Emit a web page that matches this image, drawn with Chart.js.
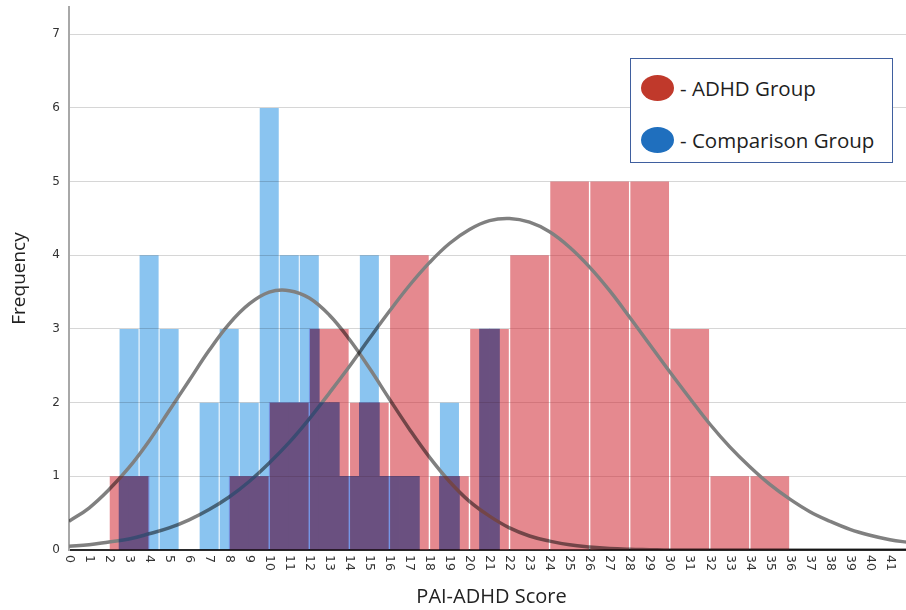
<!DOCTYPE html>
<html>
<head>
<meta charset="utf-8">
<script src="https://cdn.jsdelivr.net/npm/chart.js@4.4.1/dist/chart.umd.min.js"></script>
<style>
  html, body { margin: 0; padding: 0; background: #fff; overflow: hidden; }
  #wrap { position: relative; width: 906px; height: 610px; overflow: hidden; isolation: isolate; background: #fff; }
  #wrap canvas { position: absolute; left: 0; top: 0; }
  #blueLayer { mix-blend-mode: multiply; }
  #legend {
    position: absolute; left: 630px; top: 58px; width: 261px; height: 103px;
    border: 1px solid #3f5f9f; background: #fff; z-index: 2;
    font-family: 'Open Sans', sans-serif; font-size: 20.5px; color: #1e1e1e;
  }
  .item { position: absolute; left: 10px; display: flex; align-items: center; height: 26px; }
  .dot { display: inline-block; width: 33px; height: 26px; border-radius: 50%; margin-right: 6px; }
</style>
</head>
<body>
<div id="wrap">
  <canvas id="redLayer" width="920" height="610"></canvas>
  <canvas id="blueLayer" width="920" height="610"></canvas>
  <div id="legend">
    <div class="item" style="top:16px"><span class="dot" style="background:#c0392b"></span>- ADHD Group</div>
    <div class="item" style="top:68px"><span class="dot" style="background:#1f6fbe"></span>- Comparison Group</div>
  </div>
</div>
<script>
// ADHD group: bins two points wide, given by their midpoints
const adhdMids = [1, 3, 5, 7, 9, 11, 13, 15, 17, 19, 21, 23, 25, 27, 29, 31, 33, 35];
const adhdCounts = [0, 1, 0, 0, 1, 2, 3, 2, 4, 1, 3, 4, 5, 5, 5, 3, 1, 1];

// Comparison group: one bar per score
const compScores = [3, 4, 5, 6, 7, 8, 9, 10, 11, 12, 13, 14, 15, 16, 17, 18, 19, 20, 21];
const compCounts = [3, 4, 3, 0, 2, 3, 2, 6, 4, 4, 2, 1, 4, 1, 1, 0, 2, 0, 3];

// normal curves at each score
const curveScores = [0, 1, 2, 3, 4, 5, 6, 7, 8, 9, 10, 11, 12, 13, 14, 15, 16, 17, 18, 19, 20,
  21, 22, 23, 24, 25, 26, 27, 28, 29, 30, 31, 32, 33, 34, 35, 36, 37, 38, 39, 40, 41, 42];
const adhdCurve = [0.05, 0.07, 0.11, 0.15, 0.22, 0.30, 0.41, 0.55, 0.72, 0.93,
  1.18, 1.46, 1.78, 2.13, 2.49, 2.87, 3.24, 3.59, 3.90, 4.16,
  4.35, 4.47, 4.50, 4.45, 4.32, 4.11, 3.84, 3.52, 3.16, 2.79,
  2.42, 2.06, 1.71, 1.40, 1.13, 0.89, 0.69, 0.52, 0.39, 0.28, 0.20, 0.14, 0.10];
const compCurve = [0.39, 0.57, 0.82, 1.12, 1.48, 1.89, 2.30, 2.71, 3.07, 3.34,
  3.50, 3.52, 3.42, 3.19, 2.86, 2.47, 2.05, 1.64, 1.26, 0.93,
  0.66, 0.46, 0.30, 0.19, 0.12, 0.07, 0.04, 0.02, 0.01, 0.005,
  0, 0, 0, 0, 0, 0, 0, 0, 0, 0, 0, 0, 0];

const RED = 'rgba(208, 40, 51, 0.55)';
const BLUE = 'rgb(138, 196, 240)';
const OVERLAP = 'rgb(118, 149, 228)'; // multiplied over the red it gives the purple
const CURVE = '#808080';

function redAt(x) {
  const i = adhdMids.findIndex(m => Math.abs(x - m) < 1);
  return i < 0 ? 0 : adhdCounts[i];
}
function compAt(x) {
  const i = compScores.findIndex(s => Math.abs(x - s) < 0.5);
  return i < 0 ? 0 : compCounts[i];
}

// where both groups have bars, half a point at a time
const overlap = [];
for (let x = 0.25; x < 42; x += 0.5) {
  const v = Math.min(redAt(x), compAt(x));
  if (v > 0) overlap.push({ x: x, y: v });
}

const pts = (xs, ys) => xs.map((x, i) => ({ x: x, y: ys[i] }));

function hiddenX() {
  return { type: 'linear', display: false, offset: false, min: 0, max: 42.2, bounds: 'data',
    grid: { offset: false }, ticks: { stepSize: 2, includeBounds: false } };
}

// both layers get the same layout; the second one just draws no axes
function scales(show) {
  const none = 'rgba(0,0,0,0)';
  return {
    x: {
      type: 'linear', offset: false, min: 0, max: 42.2, bounds: 'data',
      ticks: { display: false, stepSize: 1, includeBounds: false },
      grid: { display: false, offset: false },
      border: { display: show, color: '#2b2b2b', width: 2 },
      title: { display: show, text: 'PAI-ADHD Score', color: '#222',
        font: { family: 'Open Sans', size: 20 }, padding: { top: 0, bottom: 1 } },
      afterFit: s => { s.height = 60; }
    },
    xr: hiddenX(),
    xo: hiddenX(),
    y: {
      min: 0, max: 7.37, bounds: 'data',
      ticks: { stepSize: 1, includeBounds: false, padding: 9, color: show ? '#333' : none,
        font: { family: 'DejaVu Sans', size: 12 } },
      grid: { display: show, color: '#d6d6d6', lineWidth: 1, drawTicks: false },
      border: { display: show, color: '#a8a8a8', width: 2 },
      title: { display: show, text: 'Frequency', color: '#222',
        font: { family: 'Open Sans', size: 19 }, padding: { top: 8, bottom: 0 } },
      afterFit: s => { s.width = 69; s.paddingTop = 7; s.paddingBottom = 0; }
    }
  };
}

const common = {
  responsive: false,
  animation: false,
  events: [],
  layout: { padding: { top: 0, right: 6, bottom: 0, left: 0 } },
  plugins: { legend: { display: false }, tooltip: { enabled: false } }
};

// score labels, turned to read downwards
const xLabels = {
  id: 'xLabels',
  afterDraw(chart) {
    const sc = chart.scales.x;
    const ctx = chart.ctx;
    ctx.save();
    ctx.fillStyle = '#333';
    ctx.font = '12.5px "DejaVu Sans"';
    ctx.textAlign = 'left';
    ctx.textBaseline = 'middle';
    sc.ticks.forEach(t => {
      ctx.save();
      ctx.translate(sc.getPixelForValue(t.value), sc.top + 5);
      ctx.rotate(Math.PI / 2);
      ctx.fillText(String(t.value), 0, 0);
      ctx.restore();
    });
    ctx.restore();
  }
};

// ADHD layer with the axes
new Chart(document.getElementById('redLayer'), {
  type: 'bar',
  data: {
    datasets: [
      { type: 'line', data: pts(curveScores, adhdCurve), borderColor: CURVE, borderWidth: 3.5,
        pointRadius: 0, tension: 0.4, fill: false },
      { data: pts(adhdMids, adhdCounts), xAxisID: 'xr', backgroundColor: RED, grouped: false,
        barPercentage: 0.965, categoryPercentage: 1 }
    ]
  },
  options: Object.assign({ scales: scales(true) }, common),
  plugins: [xLabels]
});

// Comparison layer, multiplied over the first
new Chart(document.getElementById('blueLayer'), {
  type: 'bar',
  data: {
    datasets: [
      { type: 'line', data: pts(curveScores, compCurve), borderColor: CURVE, borderWidth: 3.5,
        pointRadius: 0, tension: 0.4, fill: false },
      { data: overlap, xAxisID: 'xo', backgroundColor: OVERLAP, grouped: false,
        barPercentage: 1, categoryPercentage: 1 },
      { data: pts(compScores, compCounts), backgroundColor: BLUE, grouped: false,
        barPercentage: 0.95, categoryPercentage: 1 }
    ]
  },
  options: Object.assign({ scales: scales(false) }, common)
});
</script>
</body>
</html>
